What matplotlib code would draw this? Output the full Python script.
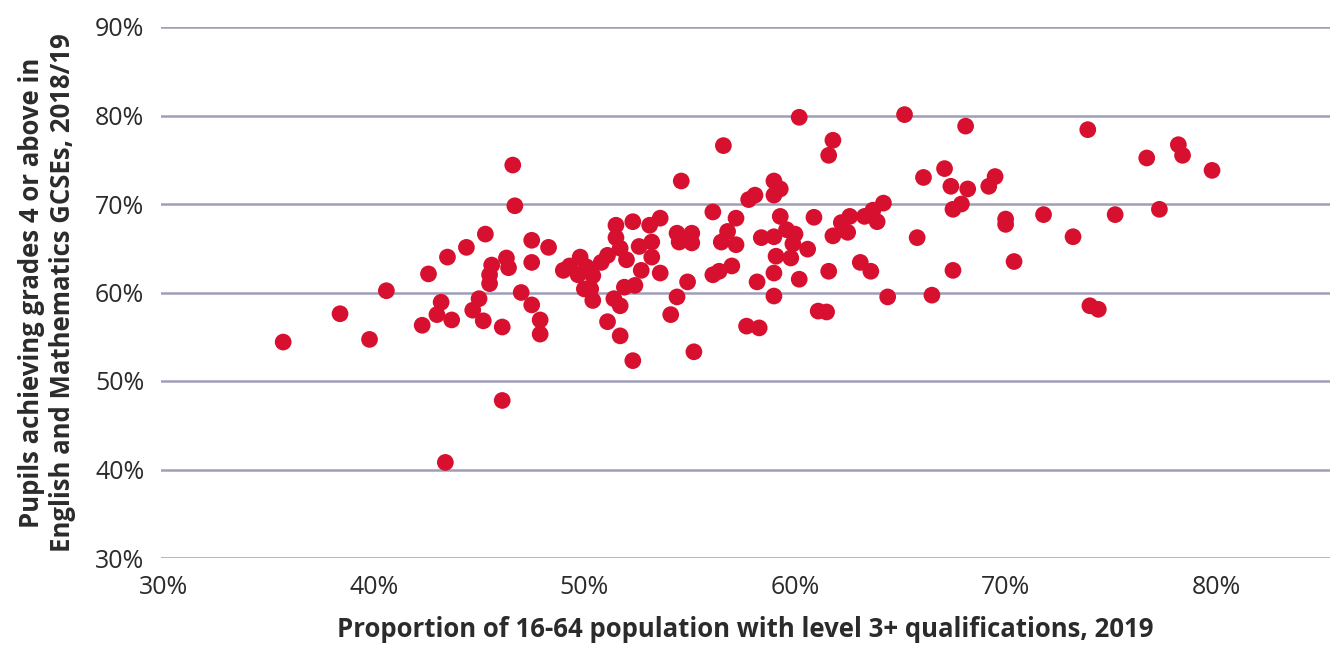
import matplotlib
matplotlib.use("Agg")
import matplotlib.pyplot as plt
from matplotlib.ticker import FuncFormatter

# -----------------------------
# Data (in %)
# -----------------------------

level3_share = [
    35.7, 38.4, 39.8, 40.6, 42.6, 42.3, 43.2, 43.0, 43.7, 43.5,
    44.4, 45.3, 43.4, 46.1, 44.7, 45.0, 45.2, 46.1, 45.5, 45.5,
    45.6, 46.3, 46.4, 47.0, 47.5, 47.9, 47.9, 47.5, 48.3, 47.5,
    46.6, 46.7, 49.0, 49.3, 49.8, 49.7, 50.1, 50.4, 50.0, 50.3,
    50.4, 51.1, 51.7, 52.3, 51.5, 51.5, 52.3, 51.1, 50.8, 51.7,
    52.0, 51.4, 51.7, 51.9, 52.4, 52.7, 52.6, 53.2, 53.1, 53.6,
    53.2, 53.6, 54.1, 54.4, 54.9, 55.2, 54.6, 54.4, 54.5, 55.1,
    55.1, 56.1, 57.2, 56.8, 56.5, 57.2, 56.1, 56.4, 57.0, 58.2,
    57.7, 58.3, 57.8, 58.1, 59.0, 59.0, 59.3, 58.4, 59.0, 59.1,
    59.0, 59.0, 56.6, 60.2, 61.8, 61.6, 65.2, 68.1, 59.3, 59.6,
    60.0, 59.9, 59.8, 60.6, 60.2, 60.9, 61.8, 61.6, 61.1, 61.5,
    64.4, 63.1, 63.6, 62.5, 62.2, 62.6, 63.3, 63.7, 63.9, 64.2,
    65.8, 66.5, 67.5, 66.1, 67.1, 67.4, 68.2, 67.9, 67.5, 69.2,
    69.5, 73.9, 70.0, 70.0, 71.8, 70.4, 73.2, 75.2, 77.3, 76.7,
    78.2, 78.4, 79.8, 74.0, 74.4,
]

gcse_pass = [
    54.4, 57.6, 54.7, 60.2, 62.1, 56.3, 58.9, 57.5, 56.9, 64.0,
    65.1, 66.6, 40.8, 47.8, 58.0, 59.3, 56.8, 56.1, 61.0, 62.0,
    63.1, 63.9, 62.8, 60.0, 58.6, 56.9, 55.3, 65.9, 65.1, 63.4,
    74.4, 69.8, 62.5, 63.0, 64.0, 62.0, 62.9, 61.9, 60.4, 60.4,
    59.1, 56.7, 55.1, 52.3, 67.6, 66.2, 68.0, 64.2, 63.4, 65.0,
    63.7, 59.3, 58.5, 60.6, 60.8, 62.5, 65.2, 65.7, 67.6, 68.4,
    64.0, 62.2, 57.5, 59.5, 61.2, 53.3, 72.6, 66.7, 65.7, 66.7,
    65.6, 69.1, 68.4, 66.9, 65.7, 65.4, 62.0, 62.4, 63.0, 61.2,
    56.2, 56.0, 70.5, 71.0, 72.6, 71.0, 68.6, 66.2, 66.3, 64.1,
    62.2, 59.6, 76.6, 79.8, 77.2, 75.5, 80.1, 78.8, 71.7, 67.1,
    66.6, 65.5, 63.9, 64.9, 61.5, 68.5, 66.4, 62.4, 57.9, 57.8,
    59.5, 63.4, 62.4, 66.8, 67.9, 68.6, 68.6, 69.3, 68.0, 70.1,
    66.2, 59.7, 62.5, 73.0, 74.0, 72.0, 71.7, 70.0, 69.4, 72.0,
    73.1, 78.4, 68.3, 67.7, 68.8, 63.5, 66.3, 68.8, 69.4, 75.2,
    76.7, 75.5, 73.8, 58.5, 58.1,
]

x_ticks = [30, 40, 50, 60, 70, 80]
y_ticks = [30, 40, 50, 60, 70, 80, 90]

dot_color = "#d7102f"
grid_color = "#a09db8"
text_color = "#2b2b2b"

plt.rcParams["font.family"] = ["Open Sans", "DejaVu Sans"]

# -----------------------------
# Figure
# -----------------------------

fig = plt.figure(figsize=(13.3, 6.48), dpi=100)
ax = fig.add_axes([161 / 1330, 1 - 558 / 648, (1330 - 161) / 1330, (558 - 27) / 648])

ax.scatter(level3_share, gcse_pass, s=145, color=dot_color, edgecolors="none",
           zorder=3, clip_on=False)

ax.set_xlim(29.9, 85.4)
ax.set_ylim(30, 90)
ax.set_xticks(x_ticks)
ax.set_yticks(y_ticks)

pct = FuncFormatter(lambda v, _: f"{v:.0f}%")
ax.xaxis.set_major_formatter(pct)
ax.yaxis.set_major_formatter(pct)

ax.yaxis.grid(True, color=grid_color, linewidth=1.8)
ax.set_axisbelow(True)
for side in ax.spines.values():
    side.set_visible(False)

ax.tick_params(axis="both", length=0, labelsize=18, labelcolor=text_color)
ax.tick_params(axis="y", pad=12)
ax.tick_params(axis="x", pad=12)

ax.set_xlabel("Proportion of 16-64 population with level 3+ qualifications, 2019",
              fontsize=18.5, fontweight="bold", color=text_color, labelpad=12)
ax.set_ylabel("Pupils achieving grades 4 or above in\nEnglish and Mathematics GCSEs, 2018/19",
              fontsize=18.5, fontweight="bold", color=text_color, labelpad=14,
              linespacing=1.15)

plt.savefig("out.png", dpi=100)
plt.close()
